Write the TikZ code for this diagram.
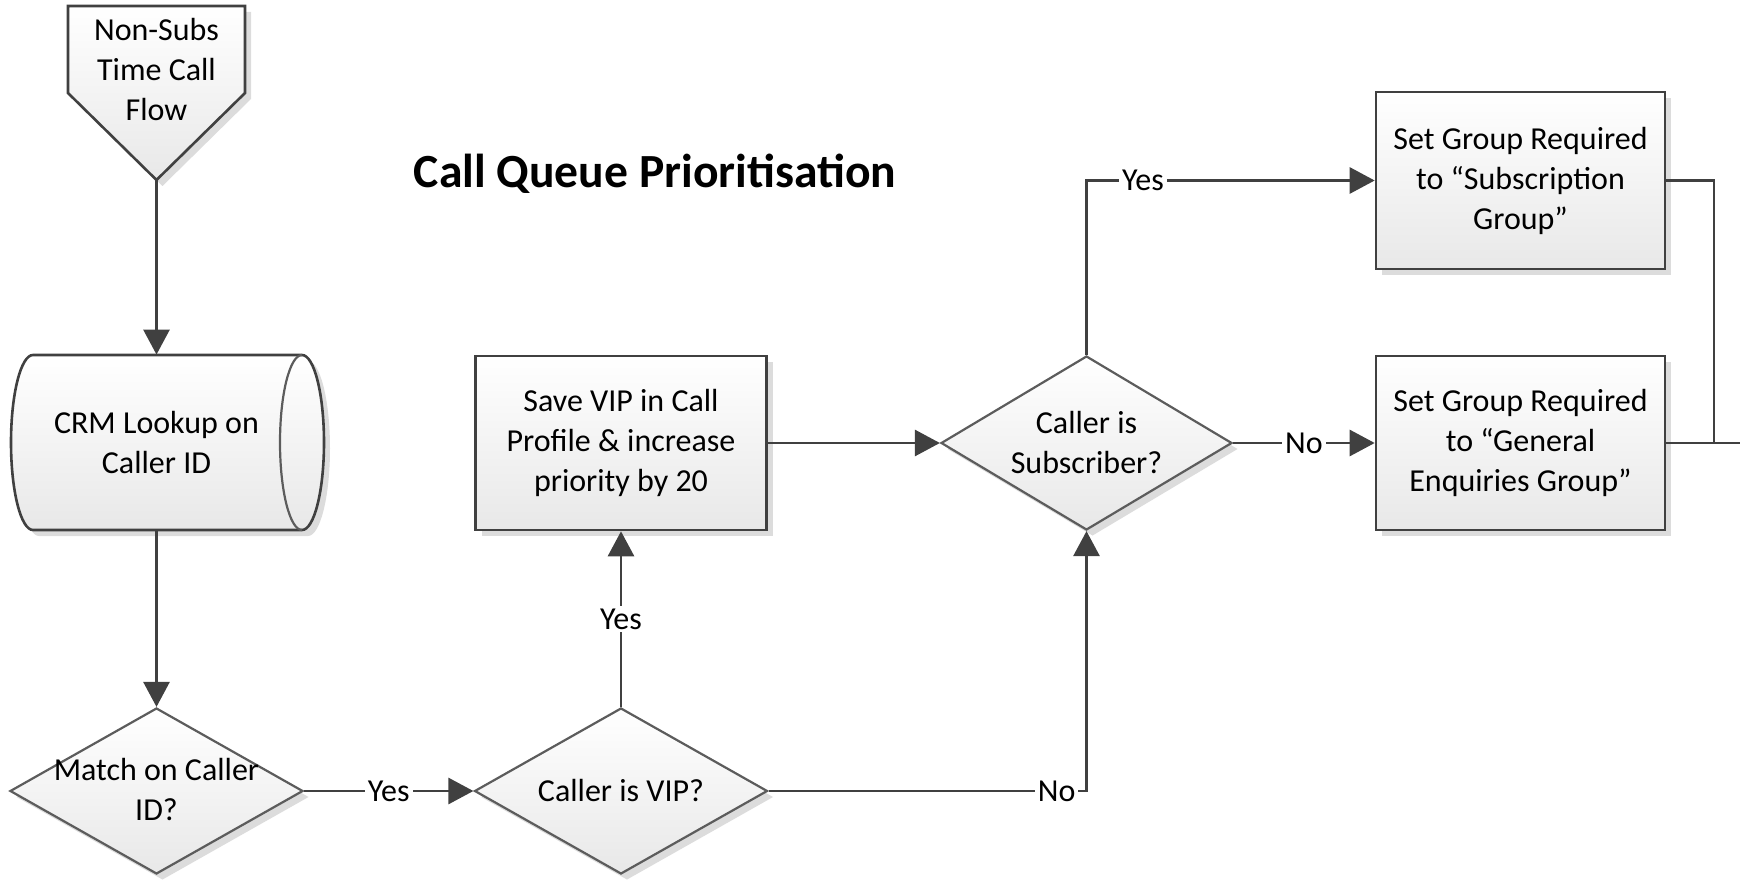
\documentclass[tikz,border=0pt]{standalone}
\usepackage{fontspec}
\setmainfont{Carlito}
\usetikzlibrary{shapes.geometric,arrows.meta,shadows}
\definecolor{linec}{HTML}{404040}
\definecolor{dlinec}{HTML}{5C5C5C}
\definecolor{shadec}{HTML}{E8E8E8}
\definecolor{shadowc}{HTML}{DCDCDC}
\newcommand\nodefont{\fontsize{16}{20}\selectfont}
\begin{document}
\begin{tikzpicture}[x=0.5pt,y=-0.5pt,
  boxshape/.style={rectangle, draw=linec, line width=1.3pt, top color=white, bottom color=shadec,
    drop shadow={shadow xshift=3pt, shadow yshift=-3pt, fill=shadowc, opacity=1},
    align=center, font=\nodefont, inner sep=0pt},
  decision/.style={diamond, aspect=1.75, draw=dlinec, line width=1.1pt, top color=white, bottom color=shadec,
    drop shadow={shadow xshift=3pt, shadow yshift=-3pt, fill=shadowc, opacity=1},
    align=center, font=\nodefont, inner sep=0pt},
  conn/.style={draw=linec, line width=1.4pt, -{Triangle[length=12.5pt,width=13pt]}},
  plainline/.style={draw=linec, line width=1.4pt},
  lbl/.style={fill=white, inner sep=1.5pt, font=\nodefont},
  outline/.style={draw=linec, line width=1.3pt, top color=white, bottom color=shadec}
]
\useasboundingbox (0,0) rectangle (1740,882);

% title
\node[font=\bfseries\fontsize{23.8}{28}\selectfont, anchor=base] (title) at (655,188) {Call Queue Prioritisation};

% off-page start
\fill[shadowc, xshift=3pt, yshift=-3pt] (68,6) -- (245,6) -- (245,93) -- (156.5,180) -- (68,93) -- cycle;
\path[outline] (68,6) -- (245,6) -- (245,93) -- (156.5,180) -- (68,93) -- cycle;
\node[font=\nodefont, align=center] (start) at (156.5,70) {Non-Subs\\Time Call\\Flow};
\coordinate (starttip) at (156.5,180);

% CRM cylinder
\fill[shadowc, xshift=3pt, yshift=-3pt] (33,355) -- (302,355)
  arc[start angle=90, end angle=-90, x radius=11pt, y radius=43.75pt] -- (33,530)
  arc[start angle=-90, end angle=-270, x radius=11pt, y radius=43.75pt] -- cycle;
\path[outline] (33,355) -- (302,355)
  arc[start angle=90, end angle=-90, x radius=11pt, y radius=43.75pt] -- (33,530)
  arc[start angle=-90, end angle=-270, x radius=11pt, y radius=43.75pt] -- cycle;
\draw[dlinec, line width=1.1pt] (302,355) arc[start angle=90, end angle=270, x radius=11pt, y radius=43.75pt];
\node[font=\nodefont, align=center, minimum width=145.5pt, minimum height=87.5pt, inner sep=0pt] (crm) at (156.5,442.5) {CRM Lookup on\\Caller ID};

% decisions and processes
\node[decision, minimum width=146.5pt, minimum height=83pt] (match) at (156.5,791) {};
\node[font=\nodefont, align=center, inner sep=0pt] (matchtxt) at (156.5,789) {Match on Caller\\ID?};
\node[decision, minimum width=146.5pt, minimum height=83pt] (vip) at (621,791) {Caller is VIP?};
\node[boxshape, minimum width=145.5pt, minimum height=87pt] (save) at (621,443) {Save VIP in Call\\Profile \& increase\\priority by 20};
\node[decision, minimum width=145.5pt, minimum height=87pt] (sub) at (1086.5,443) {Caller is\\Subscriber?};
\node[boxshape, minimum width=144.5pt, minimum height=88.5pt] (subbox) at (1520.5,180.5) {Set Group Required\\to “Subscription\\Group”};
\node[boxshape, minimum width=144.5pt, minimum height=87pt] (gen) at (1520.5,443) {Set Group Required\\to “General\\Enquiries Group”};

\coordinate (join) at (1714,443);
\coordinate (exit) at (1740,443);

% connectors
\draw[conn] (starttip) -- (crm.north);
\draw[conn] (crm.south) -- (match.north);
\draw[conn] (match.east) -- node[lbl] {Yes} (vip.west);
\draw[conn] (vip.north) -- node[lbl] {Yes} (save.south);
\draw[conn] (save.east) -- (sub.west);
\draw[conn] (vip.east) -| node[lbl, pos=0.453] {No} (sub.south);
\draw[conn] (sub.north) |- node[lbl, pos=0.598] {Yes} (subbox.west);
\draw[conn] (sub.east) -- node[lbl] {No} (gen.west);
\draw[plainline] (subbox.east) -| (join);
\draw[plainline] (gen.east) -- (exit);
\end{tikzpicture}
\end{document}
